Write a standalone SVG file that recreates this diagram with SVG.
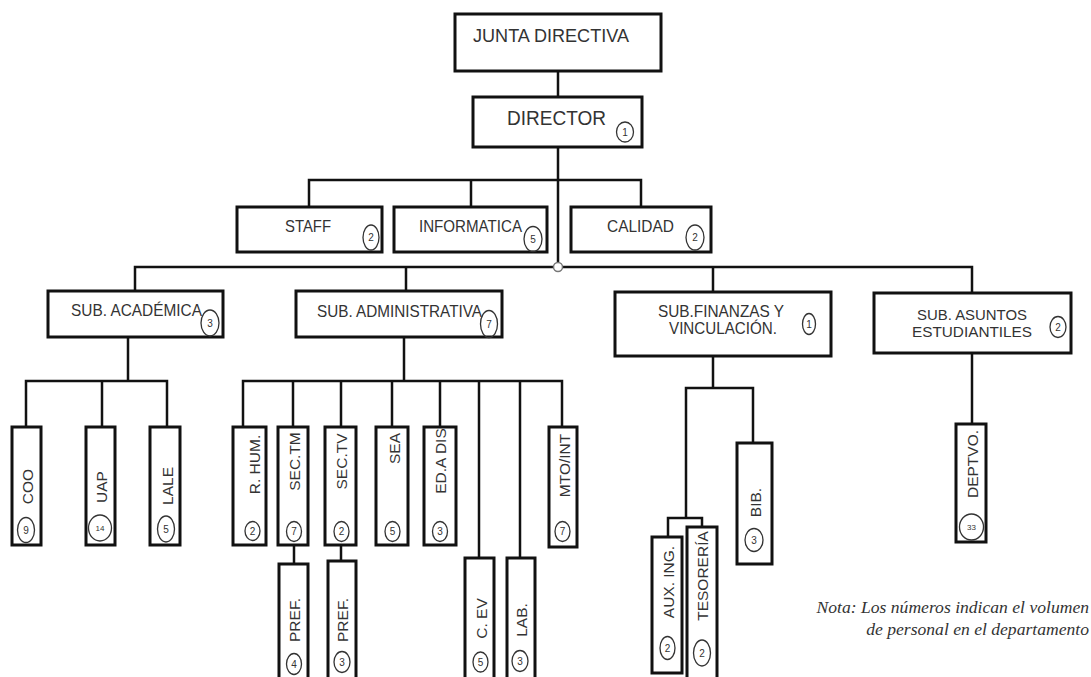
<svg xmlns="http://www.w3.org/2000/svg" width="1091" height="677" viewBox="0 0 1091 677">
<style>
.box{fill:#fff;stroke:#111;stroke-width:3}
.ln{stroke:#111;stroke-width:2.5;fill:none}
.t{font-family:"Liberation Sans",Arial,sans-serif;fill:#333;font-size:15px}
.h{font-size:16.5px}
.c{fill:none;stroke:#333;stroke-width:1.3}
.d{font-family:"Liberation Sans",Arial,sans-serif;fill:#333;font-size:10px;text-anchor:middle}
.v{text-anchor:middle;font-size:15.5px}
.note{font-family:"Liberation Serif","Times New Roman",serif;font-style:italic;font-size:17.6px;fill:#333;text-anchor:end}
</style>
<rect width="1091" height="677" fill="#fff"/>
<g id="connectors">
<path class="ln" d="M558 71V97M558 147V267M309 207V180H641V207M471 180V207"/>
<path class="ln" d="M135 291V267H972V293M406 267V292M713 267V292"/>
<path class="ln" d="M128 336V381M26 427V381H167V427M102 381V427"/>
<path class="ln" d="M404 337V381M243 427V381H562V427M293 381V427M341 381V427M392 381V427M440 381V427M479 381V558M520 381V558"/>
<path class="ln" d="M294 545V564M341 545V561"/>
<path class="ln" d="M713 356V388M686 518V388H753V443M668 537V518H702V527"/>
<path class="ln" d="M972 353V424"/>
<circle cx="558" cy="267" r="4.5" fill="#fff" stroke="#777" stroke-width="1.5"/>
</g>
<g id="junta"><rect class="box" x="455" y="14" width="206" height="57"/><text class="t" x="473" y="42" style="font-size:18.5px" textLength="156" lengthAdjust="spacingAndGlyphs">JUNTA DIRECTIVA</text></g>
<g id="director"><rect class="box" x="473" y="97" width="169" height="50"/><text class="t" x="507" y="125" style="font-size:20px" textLength="99" lengthAdjust="spacingAndGlyphs">DIRECTOR</text><ellipse class="c" cx="625" cy="132" rx="8.5" ry="10"/><text class="d" x="625" y="135.5">1</text></g>
<g id="staff"><rect class="box" x="237" y="207" width="145" height="45"/><text class="t h" x="285" y="232" textLength="46" lengthAdjust="spacingAndGlyphs">STAFF</text><ellipse class="c" cx="371" cy="237.5" rx="8" ry="12.5"/><text class="d" x="371" y="241">2</text></g>
<g id="informatica"><rect class="box" x="394" y="207" width="153" height="45"/><text class="t h" x="419" y="232" textLength="103" lengthAdjust="spacingAndGlyphs">INFORMATICA</text><ellipse class="c" cx="533" cy="239" rx="9" ry="12.5"/><text class="d" x="533" y="242.5">5</text></g>
<g id="calidad"><rect class="box" x="571" y="207" width="140" height="45"/><text class="t h" x="607" y="232" textLength="67" lengthAdjust="spacingAndGlyphs">CALIDAD</text><ellipse class="c" cx="695" cy="237.5" rx="9" ry="12.5"/><text class="d" x="695" y="241">2</text></g>
<g id="sub-academica"><rect class="box" x="48" y="291" width="175" height="46"/><text class="t h" x="71" y="316" textLength="131" lengthAdjust="spacingAndGlyphs">SUB. ACADÉMICA</text><ellipse class="c" cx="210" cy="323" rx="9" ry="13"/><text class="d" x="210" y="326.5">3</text></g>
<g id="sub-administrativa"><rect class="box" x="296" y="291" width="206" height="46"/><text class="t h" x="317" y="317" textLength="165" lengthAdjust="spacingAndGlyphs">SUB. ADMINISTRATIVA</text><ellipse class="c" cx="489" cy="324" rx="8.5" ry="13.5"/><text class="d" x="489" y="327.5">7</text></g>
<g id="sub-finanzas"><rect class="box" x="615" y="292" width="216" height="64"/><text class="t h" x="658" y="317" textLength="126" lengthAdjust="spacingAndGlyphs">SUB.FINANZAS Y</text><text class="t h" x="669" y="334" textLength="108" lengthAdjust="spacingAndGlyphs">VINCULACIÓN.</text><ellipse class="c" cx="809" cy="324" rx="6.5" ry="10.5"/><text class="d" x="809" y="327.5">1</text></g>
<g id="sub-asuntos"><rect class="box" x="874" y="293" width="197" height="60"/><text class="t" x="917" y="320" textLength="110" lengthAdjust="spacingAndGlyphs">SUB. ASUNTOS</text><text class="t" x="912" y="337" textLength="120" lengthAdjust="spacingAndGlyphs">ESTUDIANTILES</text><ellipse class="c" cx="1058" cy="327" rx="8" ry="10.5"/><text class="d" x="1058" y="330.5">2</text></g>
<g id="coo"><rect class="box" x="12" y="427" width="29" height="118"/><text class="t v" transform="translate(33,486.5) rotate(-90)">COO</text><ellipse class="c" cx="26" cy="530" rx="8.5" ry="12.5"/><text class="d" x="26" y="533.5">9</text></g>
<g id="uap"><rect class="box" x="86" y="427" width="29" height="118"/><text class="t v" transform="translate(107,487) rotate(-90)">UAP</text><ellipse class="c" cx="100" cy="528" rx="11.5" ry="13"/><text class="d" x="100" y="531" style="font-size:8px">14</text></g>
<g id="lale"><rect class="box" x="150" y="427" width="30" height="118"/><text class="t v" transform="translate(173,486) rotate(-90)">LALE</text><ellipse class="c" cx="166" cy="529" rx="8.5" ry="13"/><text class="d" x="166" y="532.5">5</text></g>
<g id="r-hum"><rect class="box" x="233" y="427" width="33" height="118"/><text class="t v" transform="translate(260,464.5) rotate(-90)">R. HUM.</text><ellipse class="c" cx="252.5" cy="531" rx="7.5" ry="9.5"/><text class="d" x="252.5" y="534.5">2</text></g>
<g id="sec-tm"><rect class="box" x="278" y="427" width="30" height="118"/><text class="t v" transform="translate(300,461.5) rotate(-90)">SEC.TM</text><ellipse class="c" cx="294" cy="531.5" rx="7.5" ry="10"/><text class="d" x="294" y="535">7</text></g>
<g id="sec-tv"><rect class="box" x="325" y="427" width="31" height="118"/><text class="t v" transform="translate(347,461.5) rotate(-90)">SEC.TV</text><ellipse class="c" cx="341.5" cy="531.5" rx="7.5" ry="10"/><text class="d" x="341.5" y="535">2</text></g>
<g id="sea"><rect class="box" x="376" y="427" width="32" height="118"/><text class="t v" transform="translate(400,448.5) rotate(-90)">SEA</text><ellipse class="c" cx="392.5" cy="531.5" rx="7.5" ry="10"/><text class="d" x="392.5" y="535">5</text></g>
<g id="ed-a-dis"><rect class="box" x="424" y="427" width="32" height="118"/><text class="t v" transform="translate(446,461) rotate(-90)">ED.A DIS</text><ellipse class="c" cx="440" cy="531.5" rx="7.5" ry="10"/><text class="d" x="440" y="535">3</text></g>
<g id="mto-int"><rect class="box" x="549" y="427" width="28" height="120"/><text class="t v" transform="translate(570,465.5) rotate(-90)">MTO/INT</text><ellipse class="c" cx="562.5" cy="531.5" rx="7.5" ry="10"/><text class="d" x="562.5" y="535">7</text></g>
<g id="pref-tm"><rect class="box" x="279" y="564" width="29" height="125"/><text class="t v" transform="translate(300,620) rotate(-90)">PREF.</text><ellipse class="c" cx="294" cy="664" rx="7.5" ry="10.5"/><text class="d" x="294" y="667.5">4</text></g>
<g id="pref-tv"><rect class="box" x="328" y="561" width="28" height="125"/><text class="t v" transform="translate(348,620) rotate(-90)">PREF.</text><ellipse class="c" cx="342" cy="662" rx="8" ry="10.5"/><text class="d" x="342" y="665.5">3</text></g>
<g id="c-ev"><rect class="box" x="465" y="558" width="29" height="125"/><text class="t v" transform="translate(487,618.5) rotate(-90)">C. EV</text><ellipse class="c" cx="480.5" cy="662" rx="7.5" ry="10"/><text class="d" x="480.5" y="665.5">5</text></g>
<g id="lab"><rect class="box" x="507" y="558" width="28" height="125"/><text class="t v" transform="translate(527,620) rotate(-90)">LAB.</text><ellipse class="c" cx="520" cy="661" rx="8" ry="10.5"/><text class="d" x="520" y="664.5">3</text></g>
<g id="aux-ing"><rect class="box" x="652" y="537" width="30" height="136"/><text class="t v" transform="translate(674,582) rotate(-90)">AUX. ING.</text><ellipse class="c" cx="667.5" cy="648" rx="7.5" ry="11.5"/><text class="d" x="667.5" y="651.5">2</text></g>
<g id="tesoreria"><rect class="box" x="687" y="527" width="30" height="160"/><text class="t v" transform="translate(708,576) rotate(-90)">TESORERÍA</text><ellipse class="c" cx="702" cy="653" rx="8.5" ry="13"/><text class="d" x="702" y="656.5">2</text></g>
<g id="bib"><rect class="box" x="737" y="443" width="35" height="121"/><text class="t v" transform="translate(761,502.5) rotate(-90)">BIB.</text><ellipse class="c" cx="754" cy="540" rx="9" ry="11.5"/><text class="d" x="754" y="543.5">3</text></g>
<g id="deptvo"><rect class="box" x="956" y="424" width="30" height="118"/><text class="t v" transform="translate(978,464) rotate(-90)">DEPTVO.</text><ellipse class="c" cx="971.5" cy="527" rx="12" ry="13"/><text class="d" x="971.5" y="530" style="font-size:8px">33</text></g>
<g id="nota"><text class="note" x="1089" y="613">Nota: Los números indican el volumen</text><text class="note" x="1089" y="635">de personal en el departamento</text></g>
</svg>
